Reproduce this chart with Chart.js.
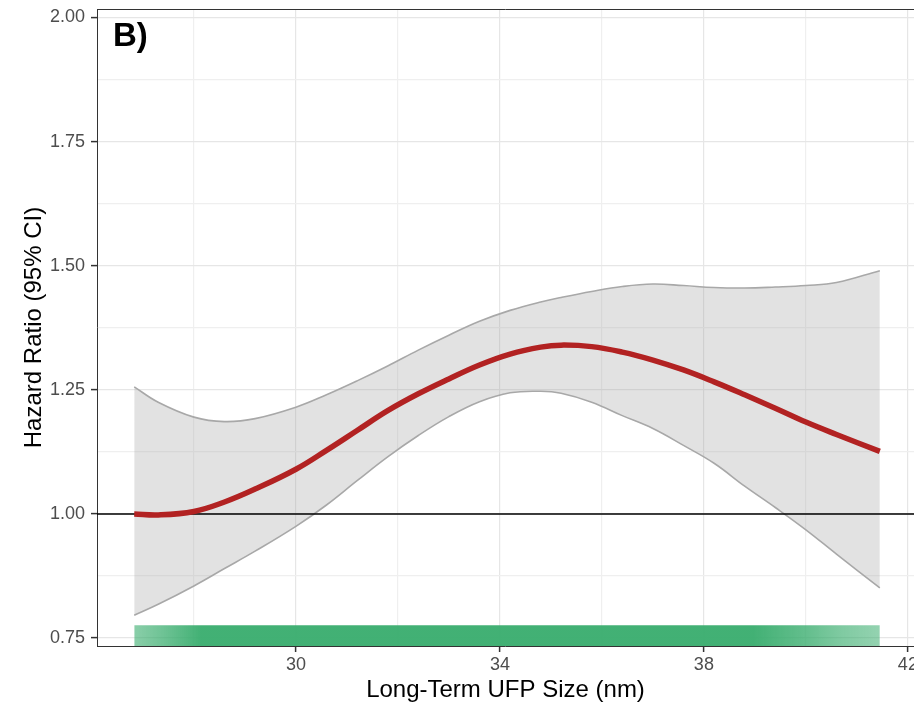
<!DOCTYPE html>
<html>
<head>
<meta charset="utf-8">
<script src="https://cdn.jsdelivr.net/npm/chart.js@4/dist/chart.umd.min.js"></script>
<style>
  html, body { margin: 0; padding: 0; background: #fff; }
  #wrap { width: 914px; height: 702px; position: relative; }
</style>
</head>
<body>
<div id="wrap"><canvas id="hrChart"></canvas></div>
<script>
const ufpSize = [26.83, 27.3, 28, 28.6, 29.2, 30, 30.6, 31.2, 31.8, 32.4, 33, 33.6, 34.2,
                 34.8, 35.2, 35.8, 36.4, 37, 37.6, 38.2, 38.8, 39.4, 40, 40.6, 41.45];
const hazardRatio = [1.000, 0.998, 1.005, 1.024, 1.050, 1.090, 1.128, 1.168, 1.208, 1.242, 1.272, 1.300, 1.322,
                     1.336, 1.340, 1.337, 1.326, 1.310, 1.290, 1.266, 1.240, 1.213, 1.185, 1.160, 1.126];
const ciUpper = [1.256, 1.225, 1.195, 1.186, 1.192, 1.215, 1.240, 1.268, 1.298, 1.330, 1.360, 1.388, 1.410,
                 1.427, 1.436, 1.448, 1.458, 1.463, 1.460, 1.456, 1.455, 1.457, 1.460, 1.466, 1.490];
const ciLower = [0.796, 0.818, 0.855, 0.890, 0.925, 0.975, 1.018, 1.067, 1.115, 1.158, 1.196, 1.226, 1.244,
                 1.247, 1.243, 1.225, 1.198, 1.172, 1.138, 1.102, 1.056, 1.013, 0.968, 0.919, 0.851];

// rug of observed exposures (extent and height of the strip)
const rugExtent = [26.83, 41.45];
const rugTop = 0.776;

const refValue = 1.0;
const xRange = [26.1, 42.12];
const yRange = [0.734, 2.017];
const xGridVals = [28, 30, 32, 34, 36, 38, 40, 42];
const xTickLabels = [30, 34, 38, 42];
const yGridVals = [0.75, 0.875, 1.0, 1.125, 1.25, 1.375, 1.5, 1.625, 1.75, 1.875, 2.0];
const yTickLabels = [0.75, 1.0, 1.25, 1.5, 1.75, 2.0];

const FONT = "'Liberation Sans', Arial, sans-serif";

const toPoints = (ys) => ufpSize.map((x, i) => ({ x: x, y: ys[i] }));
const isLabel = (list, v) => list.some(l => Math.abs(l - v) < 1e-6);

function rugGradient(context) {
    const chart = context.chart;
    const area = chart.chartArea;
    if (!area) return 'rgb(60,174,112)';
    const xs = chart.scales.x;
    const x0 = xs.getPixelForValue(rugExtent[0]);
    const x1 = xs.getPixelForValue(rugExtent[1]);
    const g = chart.ctx.createLinearGradient(x0, 0, x1, 0);
    g.addColorStop(0, 'rgba(60,174,112,0.6)');
    g.addColorStop(0.04, 'rgba(60,174,112,0.75)');
    g.addColorStop(0.09, 'rgba(60,174,112,0.97)');
    g.addColorStop(0.83, 'rgba(60,174,112,0.97)');
    g.addColorStop(0.9, 'rgba(60,174,112,0.8)');
    g.addColorStop(0.95, 'rgba(60,174,112,0.65)');
    g.addColorStop(1, 'rgba(60,174,112,0.55)');
    return g;
}

const panelExtras = {
    id: 'panelExtras',
    afterDraw(chart) {
        const { ctx, chartArea } = chart;
        ctx.save();
        ctx.strokeStyle = '#333333';
        ctx.lineWidth = 1;
        ctx.beginPath();
        ctx.moveTo(chartArea.left, chartArea.top + 0.5);
        ctx.lineTo(chartArea.right, chartArea.top + 0.5);
        ctx.stroke();
        ctx.fillStyle = '#000';
        ctx.font = "bold 33px " + FONT;
        ctx.textBaseline = 'top';
        ctx.fillText('B)', chartArea.left + 16, chartArea.top + 11);
        ctx.restore();
    }
};

const ctx = document.getElementById('hrChart');

new Chart(ctx, {
    type: 'line',
    data: {
        datasets: [
            {
                label: 'HR',
                data: toPoints(hazardRatio),
                borderColor: '#b22222',
                borderWidth: 5.5,
                pointRadius: 0,
                tension: 0.4,
                borderCapStyle: 'butt',
                fill: false,
                order: 0
            },
            {
                label: 'ref',
                data: [{ x: xRange[0], y: refValue }, { x: xRange[1], y: refValue }],
                borderColor: '#000000',
                borderWidth: 1.6,
                pointRadius: 0,
                fill: false,
                order: 1
            },
            {
                label: 'upper',
                data: toPoints(ciUpper),
                borderColor: '#a8a8a8',
                borderWidth: 1.6,
                pointRadius: 0,
                tension: 0.4,
                fill: false,
                order: 2
            },
            {
                label: 'lower',
                data: toPoints(ciLower),
                borderColor: '#a8a8a8',
                borderWidth: 1.6,
                pointRadius: 0,
                tension: 0.4,
                fill: { target: 2 },
                backgroundColor: 'rgba(160,160,160,0.3)',
                order: 3
            },
            {
                label: 'rug',
                data: [{ x: rugExtent[0], y: rugTop }, { x: rugExtent[1], y: rugTop }],
                borderWidth: 0,
                borderColor: 'rgba(0,0,0,0)',
                pointRadius: 0,
                fill: 'start',
                backgroundColor: rugGradient,
                order: 5
            }
        ]
    },
    options: {
        responsive: true,
        maintainAspectRatio: false,
        animation: false,
        layout: { padding: { top: 9, right: 0, left: 0, bottom: 0 } },
        plugins: {
            legend: { display: false },
            tooltip: { enabled: false }
        },
        scales: {
            x: {
                type: 'linear',
                min: xRange[0],
                max: xRange[1],
                afterBuildTicks: (scale) => { scale.ticks = xGridVals.map(v => ({ value: v })); },
                afterFit: (scale) => { scale.height = 56; scale.paddingRight = 0; scale.paddingLeft = 0; },
                ticks: {
                    autoSkip: false,
                    maxRotation: 0,
                    padding: 2,
                    color: '#4d4d4d',
                    font: { family: FONT, size: 18 },
                    callback: (v) => isLabel(xTickLabels, v) ? String(v) : ''
                },
                grid: {
                    color: (c) => (c.tick && isLabel(xTickLabels, c.tick.value)) ? '#e6e6e6' : '#efefef',
                    lineWidth: 1.2,
                    tickLength: 6,
                    tickColor: (c) => (c.tick && isLabel(xTickLabels, c.tick.value)) ? '#333333' : 'rgba(0,0,0,0)',
                    tickWidth: 1.5
                },
                border: { color: '#333333', width: 1 },
                title: {
                    display: true,
                    text: 'Long-Term UFP Size (nm)',
                    color: '#000',
                    font: { family: FONT, size: 24 },
                    padding: { top: 0, bottom: -3 }
                }
            },
            y: {
                type: 'linear',
                min: yRange[0],
                max: yRange[1],
                afterBuildTicks: (scale) => { scale.ticks = yGridVals.map(v => ({ value: v })); },
                afterFit: (scale) => { scale.width = 97; scale.paddingTop = 0; scale.paddingBottom = 0; },
                ticks: {
                    autoSkip: false,
                    padding: 6,
                    color: '#4d4d4d',
                    font: { family: FONT, size: 18 },
                    callback: (v) => isLabel(yTickLabels, v) ? v.toFixed(2) : ''
                },
                grid: {
                    color: (c) => (c.tick && isLabel(yTickLabels, c.tick.value)) ? '#e6e6e6' : '#efefef',
                    lineWidth: 1.2,
                    tickLength: 6,
                    tickColor: (c) => (c.tick && isLabel(yTickLabels, c.tick.value)) ? '#333333' : 'rgba(0,0,0,0)',
                    tickWidth: 1.5
                },
                border: { color: '#333333', width: 1 },
                title: {
                    display: true,
                    text: 'Hazard Ratio (95% CI)',
                    color: '#000',
                    font: { family: FONT, size: 24 },
                    padding: { top: 20, bottom: 0 }
                }
            }
        }
    },
    plugins: [panelExtras]
});
</script>
</body>
</html>
